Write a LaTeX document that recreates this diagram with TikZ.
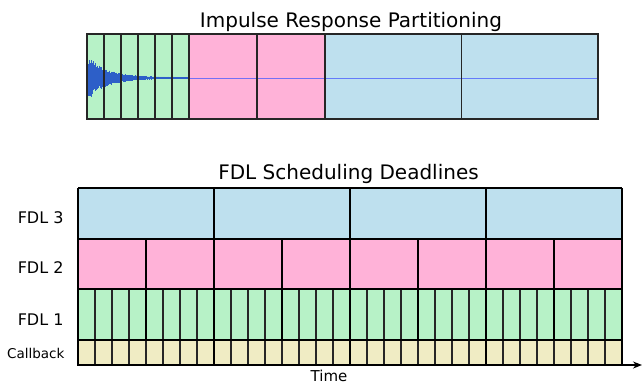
\documentclass[tikz,border=0pt]{standalone}
\usepackage{fontspec}
\setmainfont{DejaVu Sans}
\usetikzlibrary{arrows.meta}
\definecolor{cgreen}{RGB}{183,242,199}
\definecolor{cpink}{RGB}{255,178,216}
\definecolor{cblue}{RGB}{190,224,238}
\definecolor{cyell}{RGB}{240,236,196}
\definecolor{cwave}{RGB}{45,95,200}
\definecolor{cline}{RGB}{70,90,255}
\begin{document}
\begin{tikzpicture}[x=1pt,y=-1pt,
  thin cell/.style={draw=black!85,line width=1.1pt},
  thick cell/.style={draw=black,line width=1.6pt},
  title/.style={font=\fontsize{20}{24}\selectfont,anchor=base},
  rowlabel/.style={font=\fontsize{16}{19}\selectfont,anchor=base east},
  cblabel/.style={font=\fontsize{13.5}{16}\selectfont,anchor=base east}]
\useasboundingbox (0,0) rectangle (642,384);
% ---------- top panel ----------
\node[title] (t1) at (351,27) {Impulse Response Partitioning};
\fill[cgreen] (87,34) rectangle (189,119);
\fill[cpink] (189,34) rectangle (325,119);
\fill[cblue] (325,34) rectangle (598,119);
% waveform
\pgfmathsetseed{11}
\foreach \i in {0,0.5,...,95} {
  \pgfmathsetmacro\a{23*exp(-\i/19)*(0.55+0.45*rnd)+0.8}
  \pgfmathsetmacro\b{23*exp(-\i/19)*(0.55+0.45*rnd)+0.8}
  \draw[cwave,line width=0.6pt] (87+\i,78-\a) -- (87+\i,78+\b);
}
\draw[cwave,line width=1.4pt] (175,78) -- (189,78);
\draw[cline,opacity=0.75,line width=0.9pt] (189,78) -- (598,78);
\foreach \k in {1,...,5} \draw[thin cell] (87+17*\k,34) -- (87+17*\k,119);
\draw[thin cell] (257,34) -- (257,119);
\draw[thin cell] (461.5,34) -- (461.5,119);
\draw[thin cell] (189,34) -- (189,119);
\draw[thin cell] (325,34) -- (325,119);
\draw[thin cell] (87,34) rectangle (598,119);
% ---------- bottom panel ----------
\node[title] (t2) at (348.5,179) {FDL Scheduling Deadlines};
\fill[cblue] (78,188) rectangle (622,239);
\fill[cpink] (78,239) rectangle (622,289);
\fill[cgreen] (78,289) rectangle (622,340);
\fill[cyell] (78,340) rectangle (622,365);
\foreach \k in {1,...,31} \draw[thin cell] (78+17*\k,289) -- (78+17*\k,365);
\draw[line width=1.2pt] (78,239) -- (622,239);
\draw[line width=1.2pt] (78,289) -- (622,289);
\draw[line width=1.2pt] (78,340) -- (622,340);
\foreach \k in {1,...,7} \draw[thick cell] (78+68*\k,239) -- (78+68*\k,340);
\foreach \k in {1,...,3} \draw[thick cell] (78+136*\k,188) -- (78+136*\k,365);
\draw[line width=1.3pt] (78,188) -- (622,188);
\draw[line width=1.3pt] (622,188) -- (622,365);
\draw[line width=1.6pt] (78,188) -- (78,365);
\coordinate (ax0) at (77.2,365);
\coordinate (ax1) at (642,365);
\draw[line width=1.3pt,-{Stealth[length=9pt,width=7pt]}] (ax0) -- (ax1);
\node[rowlabel] (l3) at (67,223) {FDL 3};
\node[rowlabel] (l2) at (67,273) {FDL 2};
\node[rowlabel] (l1) at (67,325) {FDL 1};
\node[cblabel] (lc) at (68,358) {Callback};
\node[font=\fontsize{15}{18}\selectfont,anchor=base,inner sep=0pt] (tm) at (329,381.5) {Time};
\end{tikzpicture}
\end{document}
